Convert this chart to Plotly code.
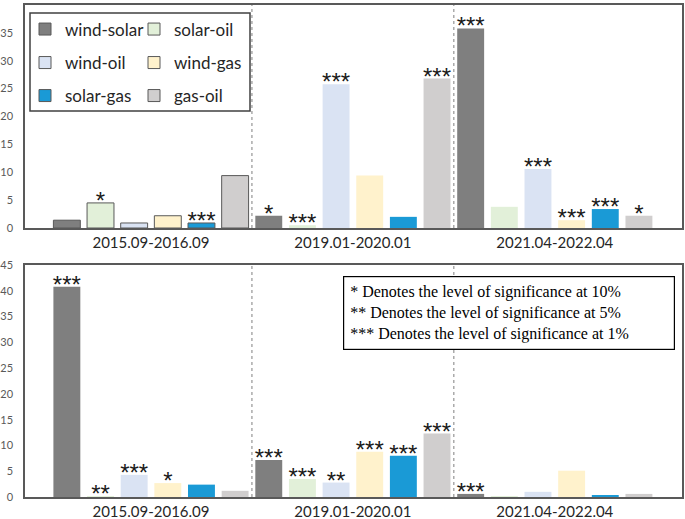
import plotly.graph_objects as go

periods = ["2015.09-2016.09", "2019.01-2020.01", "2021.04-2022.04"]
series = ["wind-solar", "solar-oil", "wind-oil", "wind-gas", "solar-gas", "gas-oil"]

top_wind_solar = [1.4, 2.2, 35.8]
top_solar_oil = [4.5, 0.5, 3.8]
top_wind_oil = [0.9, 25.8, 10.6]
top_wind_gas = [2.2, 9.4, 1.4]
top_solar_gas = [0.9, 2.0, 3.4]
top_gas_oil = [9.4, 26.8, 2.2]

top_sig_wind_solar = ["", "*", "***"]
top_sig_solar_oil = ["*", "***", ""]
top_sig_wind_oil = ["", "***", "***"]
top_sig_wind_gas = ["", "", "***"]
top_sig_solar_gas = ["***", "", "***"]
top_sig_gas_oil = ["", "***", "*"]

bot_wind_solar = [40.8, 7.2, 0.6]
bot_solar_oil = [0.1, 3.5, 0.1]
bot_wind_oil = [4.3, 2.8, 1.0]
bot_wind_gas = [2.7, 8.8, 5.1]
bot_solar_gas = [2.4, 8.0, 0.3]
bot_gas_oil = [1.2, 12.3, 0.6]

bot_sig_wind_solar = ["***", "***", "***"]
bot_sig_solar_oil = ["**", "***", ""]
bot_sig_wind_oil = ["***", "**", ""]
bot_sig_wind_gas = ["*", "***", ""]
bot_sig_solar_gas = ["", "***", ""]
bot_sig_gas_oil = ["", "***", ""]

top_ticks = [0, 5, 10, 15, 20, 25, 30, 35, 40]
bot_ticks = [0, 5, 10, 15, 20, 25, 30, 35, 40, 45]

note_lines = [
    "* Denotes the level of significance at 10%",
    "** Denotes the level of significance at 5%",
    "*** Denotes the level of significance at 1%",
]

top_vals = [top_wind_solar, top_solar_oil, top_wind_oil, top_wind_gas, top_solar_gas, top_gas_oil]
top_sigs = [top_sig_wind_solar, top_sig_solar_oil, top_sig_wind_oil, top_sig_wind_gas, top_sig_solar_gas, top_sig_gas_oil]
bot_vals = [bot_wind_solar, bot_solar_oil, bot_wind_oil, bot_wind_gas, bot_solar_gas, bot_gas_oil]
bot_sigs = [bot_sig_wind_solar, bot_sig_solar_oil, bot_sig_wind_oil, bot_sig_wind_gas, bot_sig_solar_gas, bot_sig_gas_oil]

colors = ["#7f7f7f", "#e2f0d9", "#dae3f3", "#fff2cc", "#1a9ad6", "#d0cece"]
legend_ids = ["legend", "legend", "legend2", "legend2", "legend3", "legend3"]

W, H = 685, 519
def px_x(p):
    return p / W
def px_y(p):
    return 1 - p / H

star_font = dict(family="Liberation Sans", size=24, color="#1a1a1a")

fig = go.Figure()
for i, name in enumerate(series):
    fig.add_trace(go.Bar(
        name=name, x=periods, y=top_vals[i], offsetgroup=str(i),
        marker=dict(color=colors[i], line=dict(color="#595959", width=[1, 0, 0])),
        xaxis="x", yaxis="y", legend=legend_ids[i], hoverinfo="skip",
    ))
for i, name in enumerate(series):
    fig.add_trace(go.Bar(
        name=name, x=periods, y=bot_vals[i], offsetgroup=str(i),
        marker=dict(color=colors[i], line=dict(width=0)),
        xaxis="x2", yaxis="y2", showlegend=False, hoverinfo="skip",
    ))
# significance stars, grouped like the bars
for i, name in enumerate(series):
    fig.add_trace(go.Scatter(
        x=periods, y=top_vals[i], text=top_sigs[i], mode="text", offsetgroup=str(i),
        textposition="middle center", textfont=star_font, cliponaxis=False,
        xaxis="x", yaxis="y", showlegend=False, hoverinfo="skip",
    ))
    fig.add_trace(go.Scatter(
        x=periods, y=bot_vals[i], text=bot_sigs[i], mode="text", offsetgroup=str(i),
        textposition="middle center", textfont=star_font, cliponaxis=False,
        xaxis="x2", yaxis="y2", showlegend=False, hoverinfo="skip",
    ))

xr = [-0.624, 2.63]
axis_common = dict(showline=True, mirror=True, linecolor="#595959", linewidth=1.5,
                   showgrid=False, zeroline=False, ticks="", automargin=False)
xfont = dict(family="Lato", size=15, color="#262626")
yfont = dict(family="Lato", size=11, color="#595959")

leg_common = dict(orientation="h", entrywidthmode="pixels", entrywidth=64,
                  bgcolor="rgba(0,0,0,0)", borderwidth=0,
                  font=dict(family="Lato", size=17, color="#262626"),
                  xanchor="left", yanchor="middle", x=px_x(25), itemwidth=30,
                  traceorder="normal")

fig.update_layout(
    template="none",
    width=W, height=H, margin=dict(l=0, r=0, t=0, b=0, autoexpand=False),
    paper_bgcolor="white", plot_bgcolor="white",
    barmode="group", bargap=0, bargroupgap=0.2,
    scattermode="group", scattergap=0,
    xaxis=dict(domain=[px_x(25), px_x(682)], range=xr, anchor="y",
               tickfont=xfont, **axis_common),
    yaxis=dict(domain=[px_y(228), px_y(5)], range=[0, 40], tickvals=top_ticks,
               anchor="x", tickfont=yfont, ticklabelstandoff=8, **axis_common),
    xaxis2=dict(domain=[px_x(25), px_x(682)], range=xr, anchor="y2",
                tickfont=xfont, **axis_common),
    yaxis2=dict(domain=[px_y(497), px_y(265)], range=[0, 45], tickvals=bot_ticks,
                anchor="x2", tickfont=yfont, ticklabelstandoff=8, **axis_common),
    legend=dict(y=px_y(29.5), **leg_common),
    legend2=dict(y=px_y(63), **leg_common),
    legend3=dict(y=px_y(96), **leg_common),
    showlegend=True,
)

# dotted separators between periods
for xref, yref in [("x", "y domain"), ("x2", "y2 domain")]:
    for xv in [0.5, 1.5]:
        fig.add_shape(type="line", xref=xref, yref=yref, x0=xv, x1=xv, y0=0, y1=1,
                      line=dict(color="#7f7f7f", width=1, dash="dot"))

# legend frame
fig.add_shape(type="rect", xref="paper", yref="paper",
              x0=px_x(30), x1=px_x(250), y0=px_y(111), y1=px_y(13),
              line=dict(color="#404040", width=1.5), fillcolor="rgba(0,0,0,0)")

# significance note
fig.add_annotation(
    xref="paper", yref="paper", x=px_x(343), y=px_y(276), xanchor="left", yanchor="top",
    text="<br>".join(note_lines), showarrow=False, align="left",
    font=dict(family="Liberation Serif", size=16, color="#000000"),
    bordercolor="#000000", borderwidth=1.2, borderpad=6, bgcolor="white",
    width=318,
)

fig.write_html("out.html", config={"displayModeBar": False},
               post_script="document.body.style.margin='0px';")
